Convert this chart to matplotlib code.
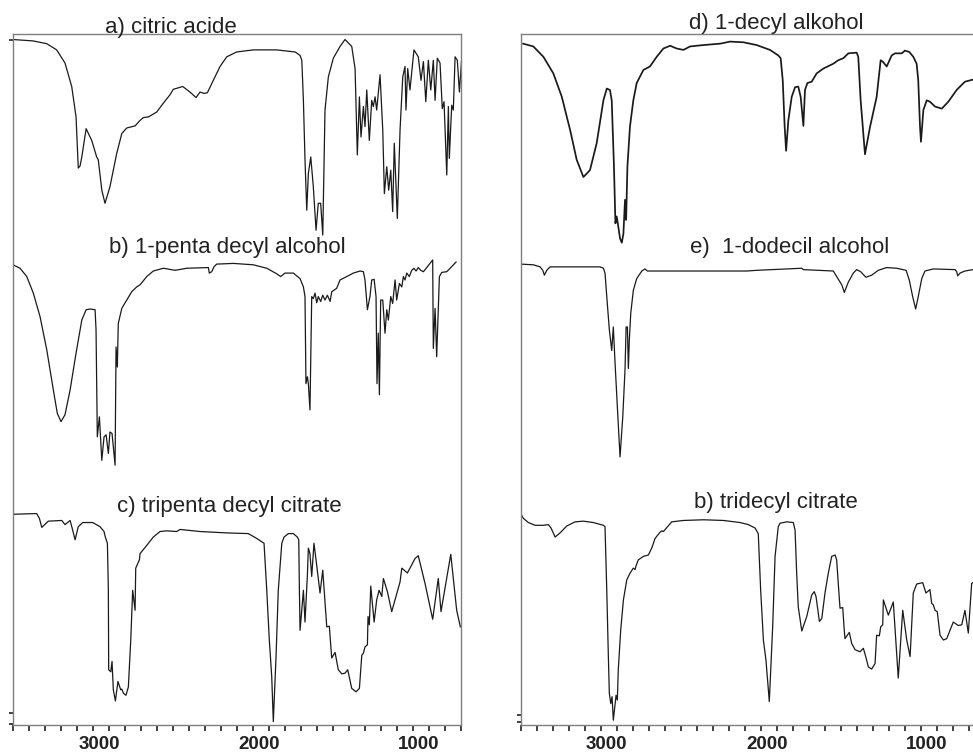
import matplotlib
matplotlib.use("Agg")
import matplotlib.pyplot as plt
from matplotlib.transforms import ScaledTranslation

# ---------------- data (wavenumber, relative transmittance) ----------------
wn_a = [3500, 3375, 3289, 3227, 3175, 3133, 3106, 3092, 3081, 3070, 3043, 3008, 2977, 2967, 2945, 2925, 2894, 2852, 2820, 2789,
        2737, 2706, 2685, 2654, 2602, 2560, 2519, 2498, 2439, 2394, 2356, 2331, 2306, 2285, 2248, 2206, 2164, 2102, 1998, 1852,
        1737, 1706, 1695, 1685, 1675, 1664, 1654, 1639, 1623, 1606, 1592, 1577, 1564, 1550, 1529, 1498, 1456, 1425, 1383, 1362,
        1348, 1335, 1325, 1310, 1300, 1289, 1273, 1258, 1248, 1237, 1227, 1206, 1189, 1179, 1164, 1152, 1139, 1127, 1117, 1098,
        1081, 1064, 1050, 1044, 1033, 1019, 994, 967, 950, 935, 920, 904, 889, 873, 862, 848, 831, 817, 806, 789,
        779, 773, 758, 748, 737, 723, 710, 695]
t_a = [99.2, 99.0, 98.6, 97.7, 95.8, 92.4, 88.0, 80.6, 80.9, 82.2, 86.3, 84.6, 82.2, 81.8, 77.4, 75.5, 77.9, 82.7, 85.6, 86.4,
       86.7, 87.5, 87.9, 88.0, 88.7, 90.0, 91.2, 92.0, 92.4, 91.6, 90.8, 91.6, 91.4, 91.5, 93.3, 95.3, 96.7, 97.4, 97.7, 97.7,
       97.4, 96.9, 96.2, 90.4, 81.8, 74.5, 79.8, 82.2, 77.9, 71.6, 75.5, 75.5, 70.9, 89.0, 93.8, 96.5, 98.2, 99.2, 98.2, 95.0,
       82.5, 90.9, 85.1, 89.5, 86.6, 91.9, 84.6, 90.4, 89.5, 90.9, 89.0, 94.1, 86.1, 76.9, 80.8, 77.4, 80.3, 74.3, 84.2, 73.3,
       86.1, 93.8, 95.3, 89.0, 95.0, 91.9, 97.7, 96.7, 93.3, 96.0, 90.2, 96.2, 91.9, 96.2, 90.4, 96.5, 95.8, 89.2, 90.2, 79.6,
       89.5, 82.0, 89.7, 89.0, 96.7, 96.2, 91.6, 96.7]

wn_b = [3500, 3456, 3414, 3373, 3331, 3289, 3248, 3223, 3200, 3175, 3143, 3106, 3070, 3043, 3018, 2987, 2981, 2973, 2960, 2945,
        2931, 2918, 2904, 2894, 2881, 2862, 2856, 2848, 2842, 2835, 2820, 2789, 2758, 2727, 2706, 2664, 2623, 2560, 2487, 2414,
        2279, 2273, 2258, 2244, 2227, 2123, 1998, 1914, 1852, 1827, 1800, 1748, 1706, 1685, 1675, 1669, 1660, 1654, 1644, 1633,
        1623, 1612, 1602, 1592, 1577, 1564, 1550, 1535, 1518, 1508, 1477, 1456, 1414, 1373, 1331, 1310, 1300, 1285, 1269, 1258,
        1243, 1231, 1225, 1217, 1210, 1202, 1189, 1175, 1164, 1154, 1139, 1127, 1112, 1102, 1085, 1070, 1060, 1050, 1039, 1023,
        1008, 994, 981, 967, 952, 935, 914, 877, 873, 862, 852, 835, 820, 789, 768, 731]
t_b = [66.6, 66.1, 64.9, 62.5, 59.1, 54.3, 48.5, 45.1, 43.9, 44.9, 48.5, 53.8, 58.6, 60.1, 60.2, 60.1, 57.2, 41.7, 44.6, 38.3,
       41.7, 42.0, 39.3, 42.4, 42.2, 37.6, 54.7, 51.8, 58.1, 58.8, 60.3, 61.5, 62.7, 63.4, 63.7, 64.9, 65.7, 66.1, 65.8, 66.1,
       66.2, 65.4, 65.6, 66.3, 66.7, 66.8, 66.6, 66.1, 65.3, 64.9, 65.4, 65.4, 64.6, 63.4, 62.0, 49.4, 50.4, 49.4, 45.6, 62.0,
       61.7, 62.5, 61.1, 62.0, 61.3, 62.2, 61.5, 62.2, 61.3, 62.7, 63.2, 64.4, 64.9, 65.4, 65.7, 65.6, 64.4, 60.1, 62.0, 64.4,
       64.5, 62.0, 49.4, 56.7, 47.8, 61.5, 61.5, 56.7, 60.1, 58.6, 62.0, 61.0, 64.4, 61.5, 63.9, 63.4, 64.9, 64.4, 65.4, 64.9,
       65.8, 66.1, 65.7, 66.2, 65.8, 65.6, 66.2, 67.3, 54.5, 60.3, 53.3, 64.9, 65.5, 65.6, 66.1, 67.0]

wn_c = [3495, 3352, 3335, 3320, 3279, 3195, 3175, 3143, 3127, 3112, 3092, 3064, 3002, 2956, 2931, 2923, 2910, 2904, 2902, 2889,
        2881, 2873, 2860, 2844, 2827, 2820, 2810, 2794, 2779, 2764, 2752, 2737, 2733, 2710, 2706, 2664, 2623, 2581, 2539, 2477,
        2456, 2331, 2164, 2029, 1977, 1931, 1914, 1898, 1883, 1873, 1856, 1842, 1820, 1806, 1779, 1748, 1723, 1714, 1710, 1706,
        1685, 1675, 1660, 1654, 1644, 1633, 1619, 1606, 1581, 1564, 1539, 1523, 1508, 1487, 1467, 1445, 1425, 1408, 1383, 1356,
        1335, 1320, 1310, 1300, 1285, 1281, 1273, 1264, 1243, 1227, 1212, 1195, 1185, 1160, 1133, 1081, 1070, 1035, 987, 967,
        925, 877, 842, 825, 764, 727, 704]
t_c = [30.5, 30.6, 29.9, 28.6, 29.5, 29.6, 29.0, 29.6, 28.2, 26.8, 28.7, 29.3, 29.3, 28.7, 28.0, 27.2, 26.3, 19.5, 8.0, 7.7,
       9.2, 5.1, 3.5, 6.3, 5.1, 5.2, 4.6, 4.3, 5.5, 12.3, 19.5, 16.6, 22.7, 23.9, 24.8, 26.0, 27.2, 28.0, 28.1, 28.0,
       28.3, 28.0, 27.8, 27.7, 27.0, 26.3, 19.5, 12.3, 7.0, 0.5, 9.9, 19.5, 26.3, 27.2, 27.7, 27.7, 27.2, 26.8, 19.5, 13.7,
       19.5, 14.9, 21.7, 25.6, 24.8, 21.5, 26.3, 23.9, 19.1, 22.4, 14.2, 14.3, 9.7, 10.5, 8.0, 7.4, 7.5, 8.0, 5.3, 4.8,
       5.3, 10.1, 10.4, 11.3, 11.6, 15.7, 14.5, 20.1, 14.9, 18.1, 19.5, 18.6, 21.2, 19.3, 16.4, 20.7, 22.7, 22.0, 24.1, 24.5,
       20.5, 15.3, 21.2, 16.4, 24.7, 16.6, 14.2]

wn_d = [3485, 3421, 3358, 3296, 3243, 3191, 3150, 3108, 3067, 3025, 2983, 2962, 2942, 2931, 2917, 2908, 2900, 2893, 2879, 2868,
        2858, 2848, 2841, 2833, 2817, 2796, 2775, 2733, 2692, 2650, 2608, 2566, 2525, 2483, 2441, 2358, 2254, 2191, 2108, 2025,
        1942, 1890, 1875, 1862, 1850, 1841, 1827, 1806, 1785, 1765, 1750, 1733, 1723, 1708, 1681, 1650, 1608, 1546, 1515, 1483,
        1452, 1400, 1390, 1375, 1348, 1316, 1275, 1250, 1237, 1212, 1181, 1160, 1118, 1098, 1071, 1046, 1025, 1015, 1004, 998,
        983, 962, 942, 910, 868, 827, 775, 723, 673]
t_d = [98.6, 98.2, 96.7, 94.3, 90.9, 86.1, 81.8, 79.3, 80.3, 84.2, 90.4, 92.1, 91.9, 90.4, 80.8, 72.6, 73.6, 72.6, 70.4, 69.8,
       71.1, 76.0, 73.1, 80.8, 86.6, 90.4, 92.9, 94.8, 95.3, 96.7, 97.9, 98.3, 97.9, 97.7, 98.2, 98.4, 98.6, 98.9, 98.8, 98.4,
       97.7, 96.9, 96.5, 93.3, 86.6, 83.1, 87.5, 90.9, 92.3, 92.4, 90.9, 86.7, 91.9, 92.9, 93.1, 94.3, 95.0, 95.7, 96.2, 96.5,
       97.2, 97.3, 96.7, 90.4, 82.6, 86.6, 90.9, 96.2, 96.0, 95.3, 96.9, 97.2, 97.2, 97.6, 97.4, 96.7, 95.7, 93.3, 86.6, 84.4,
       89.0, 90.4, 90.2, 89.5, 89.2, 90.2, 91.9, 93.1, 93.4]

wn_e = [3500, 3421, 3379, 3362, 3352, 3337, 3316, 3004, 2983, 2973, 2962, 2946, 2931, 2921, 2910, 2896, 2879, 2862, 2848, 2841,
        2833, 2827, 2821, 2812, 2796, 2775, 2743, 2723, 2708, 2441, 2087, 2025, 1743, 1733, 1546, 1525, 1493, 1477, 1452, 1421,
        1400, 1375, 1342, 1306, 1265, 1212, 1150, 1091, 1071, 1050, 1031, 1015, 993, 973, 921, 785, 775, 768, 754, 723, 673]
t_e = [66.7, 66.6, 66.3, 65.8, 65.1, 65.8, 66.3, 66.3, 66.1, 65.4, 62.0, 57.2, 54.2, 57.6, 52.3, 46.1, 38.8, 44.6, 51.4, 57.6,
       57.6, 51.6, 55.7, 59.6, 62.9, 64.6, 65.7, 66.0, 65.7, 65.7, 65.7, 65.8, 66.1, 65.9, 65.7, 64.9, 63.7, 62.6, 64.1, 65.4,
       65.9, 65.6, 64.8, 65.1, 65.8, 66.2, 66.1, 65.8, 64.4, 62.0, 60.2, 62.0, 64.6, 65.7, 66.0, 65.9, 65.6, 65.0, 65.4, 65.7, 65.9]

wn_f = [3500, 3483, 3452, 3410, 3358, 3327, 3310, 3285, 3254, 3212, 3160, 3108, 3046, 2983, 2973, 2962, 2952, 2946, 2937, 2929,
        2921, 2904, 2896, 2890, 2875, 2858, 2837, 2816, 2796, 2785, 2781, 2765, 2733, 2702, 2681, 2660, 2629, 2618, 2608, 2556,
        2483, 2358, 2233, 2129, 2077, 2035, 2015, 2000, 1983, 1967, 1946, 1925, 1910, 1890, 1879, 1837, 1796, 1785, 1775, 1765,
        1743, 1712, 1681, 1665, 1654, 1633, 1618, 1598, 1577, 1556, 1535, 1525, 1515, 1504, 1487, 1479, 1473, 1458, 1446, 1431,
        1410, 1379, 1358, 1341, 1327, 1306, 1285, 1275, 1258, 1250, 1237, 1233, 1202, 1171, 1154, 1140, 1112, 1087, 1066, 1046,
        1025, 987, 967, 942, 931, 921, 910, 896, 879, 858, 837, 796, 765, 743, 723, 702, 681, 673]
t_f = [30.6, 29.9, 29.3, 28.9, 28.9, 29.0, 28.5, 27.2, 27.8, 28.8, 29.4, 29.5, 29.3, 28.9, 28.7, 19.5, 9.9, 4.6, 3.1, 4.1,
       0.7, 4.3, 3.6, 8.0, 13.7, 18.1, 21.0, 22.0, 22.7, 22.5, 22.9, 23.9, 24.4, 24.6, 25.6, 27.0, 27.9, 28.1, 28.0, 29.4,
       29.6, 29.7, 29.6, 29.3, 29.0, 28.5, 27.7, 19.5, 12.3, 9.4, 3.4, 14.2, 24.4, 28.7, 29.2, 29.4, 29.3, 28.2, 22.0, 17.1,
       13.6, 15.7, 18.8, 19.3, 18.6, 15.0, 15.4, 19.1, 22.0, 24.4, 24.6, 23.9, 20.5, 16.9, 17.0, 14.2, 12.5, 13.0, 13.4, 11.8,
       10.9, 10.6, 11.1, 9.7, 8.4, 8.1, 8.9, 13.0, 12.9, 14.2, 14.5, 18.1, 15.9, 17.8, 11.8, 6.8, 16.6, 12.3, 9.9, 19.1,
       20.4, 20.6, 19.1, 19.6, 17.6, 17.4, 16.6, 16.4, 13.0, 12.3, 12.5, 14.9, 14.4, 14.5, 16.6, 13.3, 20.5, 20.6]

labels_left = ["a) citric acide", "b) 1-penta decyl alcohol", "c) tripenta decyl citrate"]
labels_right = ["d) 1-decyl alkohol", "e)  1-dodecil alcohol", "b) tridecyl citrate"]
major_labels = ["3000", "2000", "1000"]

# ---------------- figure ----------------
FONT = ["Liberation Sans", "DejaVu Sans"]
plt.rcParams["font.family"] = FONT

W, H = 973, 754
fig = plt.figure(figsize=(W / 100, H / 100), dpi=100)
ax1 = fig.add_axes([13 / W, 29 / H, 448 / W, 691 / H])
ax2 = fig.add_axes([520.7 / W, 29 / H, 455.3 / W, 691 / H])

line_kw = dict(color="#1a1a1a", lw=0.9)
ax1.plot(wn_a, t_a, **line_kw)
ax1.plot(wn_b, t_b, **line_kw)
ax1.plot(wn_c, t_c, **line_kw)
ax2.plot(wn_d, t_d, color="#1a1a1a", lw=1.25)
ax2.plot(wn_e, t_e, **line_kw)
ax2.plot(wn_f, t_f, **line_kw)

for ax, xr, yt in ((ax1, 700, [0.1, 1.7, 99.2]), (ax2, 654, [0.4, 1.45])):
    ax.set_xlim(3500, xr)
    ax.set_ylim(0, 100)
    ticks = list(range(3500, 699, -100))
    ax.set_xticks(ticks, [str(t) if str(t) in major_labels else "" for t in ticks])
    ax.set_yticks(yt, ["" for _ in yt])
    ax.tick_params(axis="x", direction="out", length=4, width=1.3, color="#333333",
                   pad=3.8, labelsize=13.5, labelcolor="#222222")
    ax.tick_params(axis="y", direction="out", length=3.2, width=1.3, color="#333333")
    for sp in ax.spines.values():
        sp.set_color("#7f7f7f")
        sp.set_linewidth(1.0)
    for lab in ax.get_xticklabels():
        lab.set_fontweight("bold")
        lab.set_transform(lab.get_transform() + ScaledTranslation(6 / 100, 0, fig.dpi_scale_trans))
ax2.spines["right"].set_visible(False)

txt_kw = dict(fontsize=16, color="#222222", ha="center", va="baseline")
for (xf, yf), s in zip([(0.3527, 1.0014), (0.4777, 0.6831), (0.4821, 0.3087)], labels_left):
    ax1.text(xf, yf, s, transform=ax1.transAxes, clip_on=False, **txt_kw)
for (xf, yf), s in zip([(0.5623, 1.0068), (0.5915, 0.6835), (0.5607, 0.3136)], labels_right):
    ax2.text(xf, yf, s, transform=ax2.transAxes, clip_on=False, **txt_kw)

fig.savefig("out.png", dpi=100)
